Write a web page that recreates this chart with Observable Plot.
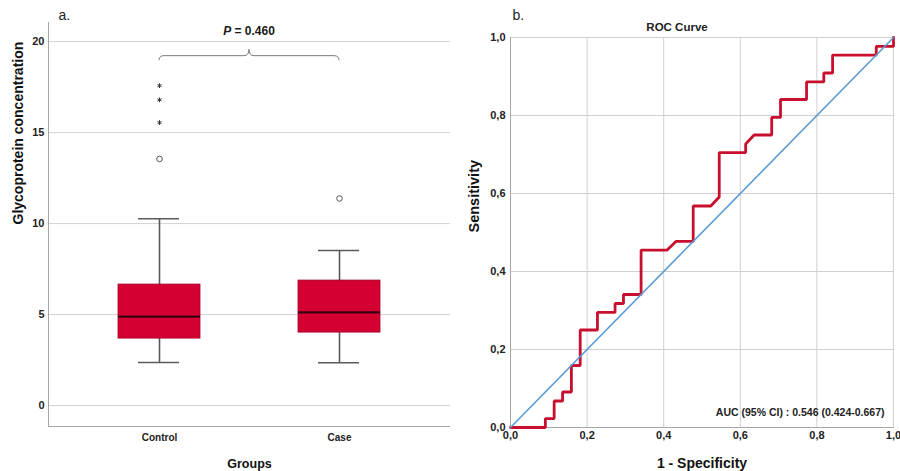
<!DOCTYPE html>
<html>
<head>
<meta charset="utf-8">
<script src="https://cdn.jsdelivr.net/npm/d3@7"></script>
<script src="https://cdn.jsdelivr.net/npm/@observablehq/plot@0.6"></script>
<style>
  html, body { margin: 0; padding: 0; background: #fff; }
  #figure { display: flex; width: 900px; height: 471px; overflow: hidden; }
  #figure svg { display: block; }
</style>
</head>
<body>
<div id="figure"></div>
<script>
// ---- Panel a: glycoprotein concentration by group (box plot summary) ----
const groups = ["Control", "Case"];
const whiskerLow = [2.37, 2.35];
const q1 = [3.68, 4.01];
const median = [4.89, 5.12];
const q3 = [6.65, 6.87];
const whiskerHigh = [10.27, 8.52];
const outlierGroup = ["Control", "Case"];
const outlierValue = [13.55, 11.38];
const extremeGroup = ["Control", "Control", "Control"];
const extremeValue = [17.58, 16.8, 15.55];
const concTicks = [0, 5, 10, 15, 20];
const bracketFrom = "Control";
const bracketTo = "Case";
const bracketLevel = 19.2;
const pValue = "0.460";

// ---- Panel b: ROC curve ----
const fpr = [0, 0.091, 0.091, 0.114, 0.114, 0.136, 0.136, 0.159, 0.159, 0.182,
             0.182, 0.227, 0.227, 0.273, 0.273, 0.295, 0.295, 0.341, 0.341, 0.409,
             0.432, 0.477, 0.477, 0.523, 0.545, 0.545, 0.614, 0.614, 0.636, 0.682,
             0.682, 0.705, 0.705, 0.773, 0.773, 0.818, 0.818, 0.841, 0.841, 0.955,
             0.955, 1, 1];
const tpr = [0, 0, 0.023, 0.023, 0.068, 0.068, 0.091, 0.091, 0.159, 0.159,
             0.25, 0.25, 0.295, 0.295, 0.318, 0.318, 0.341, 0.341, 0.455, 0.455,
             0.477, 0.477, 0.568, 0.568, 0.591, 0.705, 0.705, 0.727, 0.75, 0.75,
             0.795, 0.795, 0.841, 0.841, 0.886, 0.886, 0.909, 0.909, 0.955, 0.955,
             0.977, 0.977, 1];
const chanceLine = [0, 1];
const rocTicks = [0, 0.2, 0.4, 0.6, 0.8, 1];
const aucLabel = "AUC (95% CI) : 0.546 (0.424-0.667)";

const FONT = "'Liberation Sans', Arial, Helvetica, sans-serif";
const boxes = groups.map((g, i) => ({
  group: g, lo: whiskerLow[i], q1: q1[i], med: median[i], q3: q3[i], hi: whiskerHigh[i]
}));
const outliers = outlierGroup.map((g, i) => ({group: g, value: outlierValue[i]}));
const extremes = extremeGroup.map((g, i) => ({group: g, value: extremeValue[i]}));
const roc = fpr.map((x, i) => ({x, y: tpr[i]}));

// Curly bracket with the p-value, positioned through the plot's scales
function significanceBracket(index, scales) {
  const sx = scales.x, sy = scales.y;
  const bw = typeof sx.bandwidth === "function" ? sx.bandwidth() : (sx.bandwidth ?? 0);
  const x1 = sx(bracketFrom) + bw / 2;
  const x2 = sx(bracketTo) + bw / 2;
  const xm = (x1 + x2) / 2;
  const yFlat = sy(bracketLevel);
  const yEnd = sy(bracketLevel - 0.25);
  const yTip = sy(bracketLevel + 0.35);
  const r = 5;
  const g = d3.create("svg:g");
  g.append("path")
    .attr("fill", "none")
    .attr("stroke", "#7a7a7a")
    .attr("stroke-width", 1)
    .attr("d", `M${x1},${yEnd} Q${x1},${yFlat} ${x1 + r},${yFlat} L${xm - r},${yFlat} Q${xm},${yFlat} ${xm},${yTip} Q${xm},${yFlat} ${xm + r},${yFlat} L${x2 - r},${yFlat} Q${x2},${yFlat} ${x2},${yEnd}`);
  const t = g.append("text")
    .attr("x", xm)
    .attr("y", sy(bracketLevel + 1.3))
    .attr("text-anchor", "middle")
    .attr("dominant-baseline", "middle")
    .attr("font-family", FONT)
    .attr("font-weight", "bold")
    .attr("font-size", 12)
    .attr("fill", "#1a1a1a");
  t.append("tspan").attr("font-style", "italic").text("P");
  t.append("tspan").text(" = " + pValue);
  return g.node();
}

const boxPlot = Plot.plot({
  width: 450,
  height: 471,
  marginLeft: 48,
  marginRight: 0,
  marginTop: 22,
  marginBottom: 45,
  style: {fontFamily: FONT, background: "#fff", overflow: "visible"},
  x: {type: "band", domain: groups, paddingInner: 0.547, paddingOuter: 0.384, label: null},
  y: {domain: [-1.15, 21.05], label: null},
  marks: [
    Plot.ruleY(concTicks, {stroke: "#d2d2d2", strokeWidth: 1}),
    Plot.frame({anchor: "left", stroke: "#a6a6a6"}),
    Plot.frame({anchor: "bottom", stroke: "#a6a6a6"}),
    Plot.axisY({ticks: concTicks, tickSize: 0, tickPadding: 4, fontSize: 11, fontWeight: "bold", fill: "#222", label: null}),
    Plot.axisX({tickSize: 0, tickPadding: 7, fontSize: 10, fontWeight: "bold", fill: "#222", label: null}),
    // whiskers and caps
    Plot.ruleX(boxes, {x: "group", y1: "lo", y2: "hi", stroke: "#5a5a5a", strokeWidth: 1.6}),
    Plot.tickY(boxes, {x: "group", y: "lo", stroke: "#5a5a5a", strokeWidth: 1.6, insetLeft: 20, insetRight: 21}),
    Plot.tickY(boxes, {x: "group", y: "hi", stroke: "#5a5a5a", strokeWidth: 1.6, insetLeft: 20, insetRight: 21}),
    // interquartile boxes
    Plot.barY(boxes, {x: "group", y1: "q1", y2: "q3", fill: "#d50032", stroke: "#a3002a", strokeWidth: 0.8}),
    Plot.tickY(boxes, {x: "group", y: "med", stroke: "#3b0010", strokeWidth: 2.4}),
    // outliers (o) and extremes (*)
    Plot.dot(outliers, {x: "group", y: "value", r: 2.8, stroke: "#555", strokeWidth: 1, fill: "#fff"}),
    Plot.dot(extremes, {x: "group", y: "value", symbol: "asterisk", r: 2.2, stroke: "#333", strokeWidth: 1}),
    significanceBracket,
    Plot.text(["Glycoprotein concentration"], {frameAnchor: "left", dx: -30, rotate: -90, fontSize: 14, fontWeight: "bold", fill: "#111"}),
    Plot.text(["Groups"], {frameAnchor: "bottom", dy: 37, lineAnchor: "middle", fontSize: 12.5, fontWeight: "bold", fill: "#111"}),
    Plot.text(["a."], {frameAnchor: "top-left", dx: 10, dy: -7, textAnchor: "start", lineAnchor: "middle", fontSize: 14, fill: "#222"})
  ]
});

const comma = d => d.toFixed(1).replace(".", ",");

const rocPlot = Plot.plot({
  width: 450,
  height: 471,
  marginLeft: 60,
  marginRight: 7,
  marginTop: 37,
  marginBottom: 44,
  style: {fontFamily: FONT, background: "#fff", overflow: "visible"},
  x: {domain: [0, 1], label: null},
  y: {domain: [0, 1], label: null},
  marks: [
    Plot.ruleX(rocTicks.slice(1), {stroke: "#d0d0d0", strokeWidth: 1}),
    Plot.ruleY(rocTicks.slice(1), {stroke: "#d0d0d0", strokeWidth: 1}),
    Plot.frame({anchor: "left", stroke: "#a6a6a6"}),
    Plot.frame({anchor: "bottom", stroke: "#a6a6a6"}),
    Plot.axisY({ticks: rocTicks, tickFormat: comma, tickSize: 0, tickPadding: 5, fontSize: 11, fontWeight: "bold", fill: "#222", label: null}),
    Plot.axisX({ticks: rocTicks, tickFormat: comma, tickSize: 0, tickPadding: 4, fontSize: 11, fontWeight: "bold", fill: "#222", label: null}),
    Plot.line(roc, {x: "x", y: "y", stroke: "#c8102e", strokeWidth: 2.8, strokeLinejoin: "miter"}),
    Plot.line(chanceLine, {x: d => d, y: d => d, stroke: "#5b9bd5", strokeWidth: 1.6}),
    Plot.text([aucLabel], {frameAnchor: "bottom-right", dx: -9, dy: -15, textAnchor: "end", lineAnchor: "middle", fontSize: 10.5, fontWeight: "bold", fill: "#222"}),
    Plot.text(["ROC Curve"], {frameAnchor: "top", dx: -25, dy: -10, lineAnchor: "middle", fontSize: 11.5, fontWeight: "bold", fill: "#222"}),
    Plot.text(["Sensitivity"], {frameAnchor: "left", dx: -36, rotate: -90, fontSize: 14.5, fontWeight: "bold", fill: "#111"}),
    Plot.text(["1 - Specificity"], {frameAnchor: "bottom", dy: 36, lineAnchor: "middle", fontSize: 14, fontWeight: "bold", fill: "#111"}),
    Plot.text(["b."], {frameAnchor: "top-left", dx: 2, dy: -22, textAnchor: "start", lineAnchor: "middle", fontSize: 14, fill: "#222"})
  ]
});

const fig = document.getElementById("figure");
fig.append(boxPlot, rocPlot);
</script>
</body>
</html>
